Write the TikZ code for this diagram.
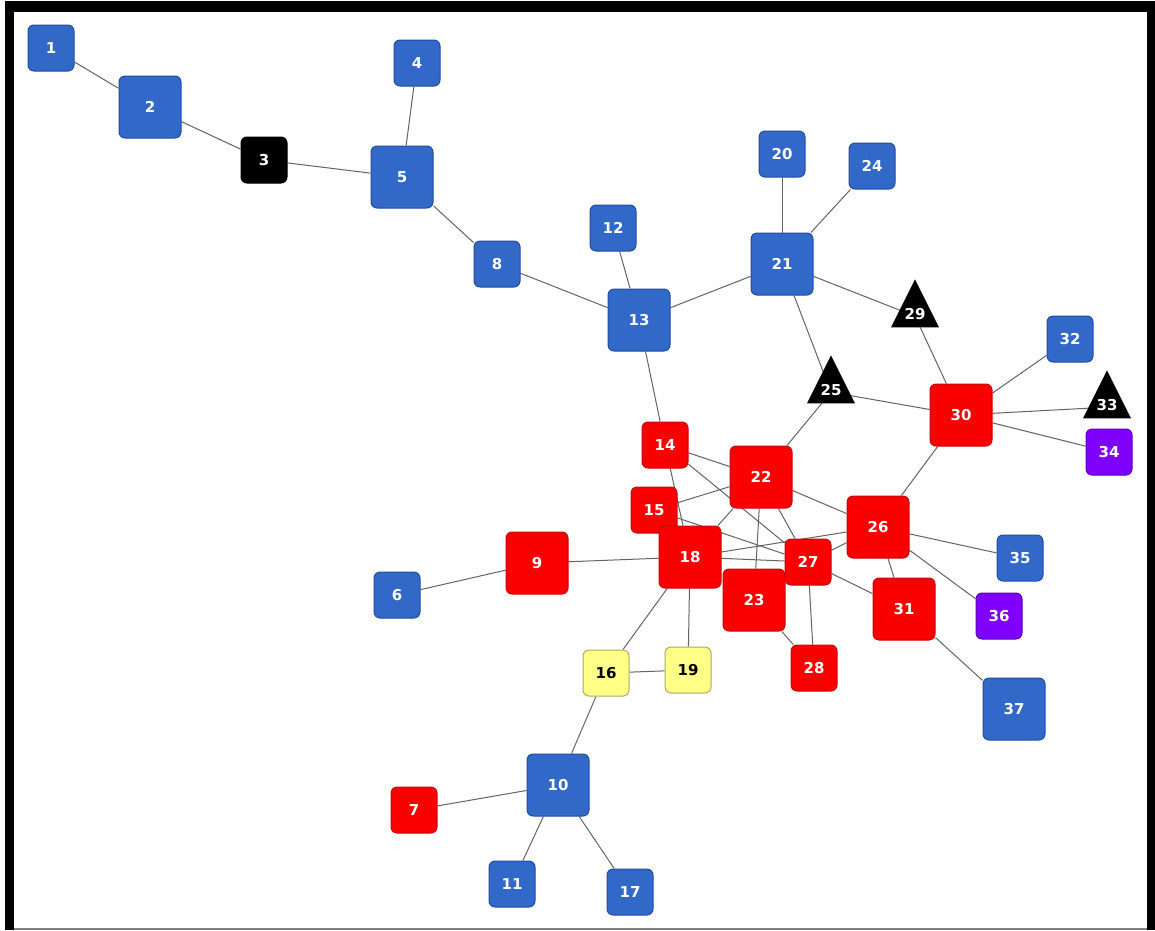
\documentclass[tikz,border=0pt]{standalone}
\usepackage{fontspec}
\newfontfamily\numfont{DejaVu Sans}
\usepackage{tikz}
\usetikzlibrary{shapes.geometric}

\definecolor{vblue}{RGB}{50,104,200}
\definecolor{vblueline}{RGB}{34,76,156}
\definecolor{vred}{RGB}{250,0,0}
\definecolor{vredline}{RGB}{196,10,10}
\definecolor{vyellow}{RGB}{255,255,136}
\definecolor{vyellowline}{RGB}{170,170,100}
\definecolor{vpurple}{RGB}{128,0,255}
\definecolor{vpurpleline}{RGB}{90,0,180}
\definecolor{linkgray}{RGB}{100,100,100}

\pgfdeclarelayer{back}
\pgfdeclarelayer{links}
\pgfsetlayers{back,links,main}

\tikzset{
  vtx/.style={rectangle, rounded corners=6pt, minimum size=46pt, inner sep=0pt,
    line width=1pt, text=white, font=\numfont\bfseries\fontsize{15}{15}\selectfont},
  big/.style={minimum size=62pt},
  blu/.style={vtx, fill=vblue, draw=vblueline},
  rd/.style={vtx, fill=vred, draw=vredline},
  yel/.style={vtx, fill=vyellow, draw=vyellowline, text=black},
  pur/.style={vtx, fill=vpurple, draw=vpurpleline},
  blk/.style={vtx, fill=black, draw=black},
  tri/.style={isosceles triangle, shape border rotate=90,
    isosceles triangle apex angle=53, isosceles triangle stretches,
    minimum width=48pt, minimum height=48pt, inner sep=0pt, text depth=4pt,
    fill=black, text=white, font=\numfont\bfseries\fontsize{15}{15}\selectfont},
  link/.style={draw=linkgray, line width=1pt}
}

\begin{document}
\begin{tikzpicture}[x=1pt,y=-1pt]
  \useasboundingbox (0,0) rectangle (1155,930);
  % frame
  \begin{pgfonlayer}{back}
    \fill[white] (0,0) rectangle (1155,930);
    \fill[black] (5,1) rectangle (14,930);
    \fill[black] (5,1) rectangle (1155,12);
    \fill[black] (1147,1) rectangle (1155,930);
    \fill[gray] (14,928) rectangle (1147,930);
  \end{pgfonlayer}

  % blue part, top left
  \node[blu] (v1) at (51,48) {1};
  \node[blu,big] (v2) at (150,107) {2};
  \node[blk] (v3) at (264,160) {3};
  \node[blu] (v4) at (417,63) {4};
  \node[blu,big] (v5) at (402,177) {5};
  \node[blu] (v8) at (497,264) {8};
  \node[blu] (v12) at (613,228) {12};
  \node[blu,big] (v13) at (639,320) {13};
  \node[blu] (v20) at (782,154) {20};
  \node[blu,big] (v21) at (782,264) {21};
  \node[blu] (v24) at (872,166) {24};
  \node[tri,anchor=apex] (v25) at (831,355) {25};
  \node[tri,anchor=apex] (v29) at (915,279) {29};
  \node[tri,anchor=apex] (v33) at (1107,370) {33};

  % red cluster
  \node[rd] (v14) at (665,445) {14};
  \node[rd] (v15) at (654,510) {15};
  \node[rd,big] (v18) at (690,557) {18};
  \node[rd,big] (v22) at (761,477) {22};
  \node[rd,big] (v23) at (754,600) {23};
  \node[rd,big] (v26) at (878,527) {26};
  \node[rd] (v27) at (808,562) {27};
  \node[rd] (v28) at (814,668) {28};
  \node[rd,big] (v30) at (961,415) {30};
  \node[rd,big] (v31) at (904,609) {31};
  \node[rd,big] (v9) at (537,563) {9};

  % right side
  \node[blu] (v32) at (1070,339) {32};
  \node[pur] (v34) at (1109,452) {34};
  \node[blu] (v35) at (1020,558) {35};
  \node[pur] (v36) at (999,616) {36};
  \node[blu,big] (v37) at (1014,709) {37};

  % bottom left
  \node[blu] (v6) at (397,595) {6};
  \node[yel] (v16) at (606,673) {16};
  \node[yel] (v19) at (688,670) {19};
  \node[blu,big] (v10) at (558,785) {10};
  \node[rd] (v7) at (414,810) {7};
  \node[blu] (v11) at (512,884) {11};
  \node[blu] (v17) at (630,892) {17};

  \begin{pgfonlayer}{links}
  \path[link]
  (v1) edge (v2) (v2) edge (v3) (v3) edge (v5) (v4) edge (v5)
  (v5) edge (v8) (v8) edge (v13) (v12) edge (v13) (v13) edge (v21)
  (v13) edge (v14) (v20) edge (v21) (v24) edge (v21)
  (v21) edge (v29.center) (v21) edge (v25.center)
  (v29.center) edge (v30) (v25.center) edge (v30) (v25.center) edge (v22)
  (v30) edge (v32) (v30) edge (v33.center) (v30) edge (v34) (v30) edge (v26)
  (v26) edge (v35) (v26) edge (v36) (v26) edge (v31) (v31) edge (v37)
  ;
  \path[link]
  (v6) edge (v9) (v9) edge (v18) (v18) edge (v16) (v18) edge (v19)
  (v16) edge (v19) (v16) edge (v10) (v10) edge (v7) (v10) edge (v11)
  (v10) edge (v17)
  ;
  \path[link]
  (v14) edge (v22) (v22) edge (v26) (v14) edge (v27) (v14) edge (v18)
  (v15) edge (v22) (v15) edge (v27) (v18) edge (v22) (v18) edge (v27)
  (v18) edge (v26) (v22) edge (v23) (v22) edge (v27) (v26) edge (v27)
  (v27) edge (v31) (v27) edge (v28) (v23) edge (v28)
  ;
  \end{pgfonlayer}
\end{tikzpicture}
\end{document}
